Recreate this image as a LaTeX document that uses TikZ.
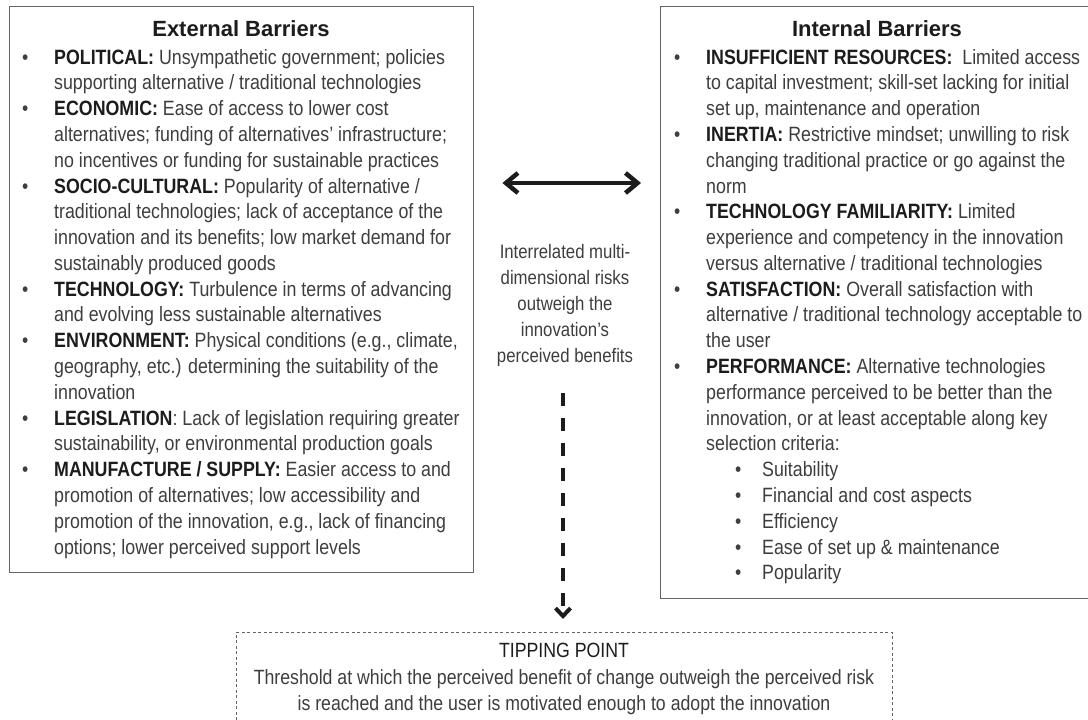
\documentclass[tikz,border=0pt]{standalone}
\usepackage{fontspec}
\setmainfont{Liberation Sans}
\newfontfamily\narrowfont[FakeStretch=0.86]{Liberation Sans}
\usetikzlibrary{arrows.meta}

\definecolor{ink}{RGB}{62,62,62}
\definecolor{inkdark}{RGB}{28,28,28}
\definecolor{frame}{RGB}{100,100,100}

% bold lead-in of a list entry
\newcommand{\lead}[1]{{\bfseries\color{inkdark}#1}}
% first-level and second-level bullet entries
\newcommand{\bitem}{\par\noindent\hangindent=32pt\hangafter=1\makebox[32pt][l]{\textbullet}}
\newcommand{\sitem}{\par\noindent\hspace{61pt}\makebox[27pt][l]{\textbullet}}
\newcommand{\bodyfont}{\narrowfont\fontsize{20.7}{25.8}\selectfont\lineskiplimit=-30pt\raggedright}

\tikzset{
  panel/.style={draw=frame, line width=1.4pt, rectangle, inner sep=0pt, anchor=north west},
  heading/.style={font=\bfseries\fontsize{22}{26}\selectfont, text=inkdark, inner sep=0pt, anchor=base},
  listtext/.style={inner sep=0pt, anchor=base west, text=ink},
  plaintext/.style={inner sep=0pt, anchor=base, text=ink},
  dblarrow/.style={line width=3.2pt, draw=inkdark,
    {Straight Barb[length=12pt,width=20pt,line width=4.5pt]}-{Straight Barb[length=12pt,width=20pt,line width=4.5pt]}},
  flowarrow/.style={line width=4pt, draw=inkdark, dash pattern=on 13pt off 12pt,
    -{Straight Barb[length=8pt,width=15pt,line width=4pt]}},
  tipbox/.style={draw=frame, line width=0.9pt, dash pattern=on 3pt off 2.5pt, rectangle, inner sep=0pt, anchor=north west}
}

\begin{document}
\begin{tikzpicture}[x=1pt, y=-1pt]
\useasboundingbox[fill=white] (0,0) rectangle (1088,720);

% ---------- external barriers ----------
\node[panel, minimum width=464pt, minimum height=566pt] (extbox) at (9,6) {};
\node[heading] (exttitle) at (241,36) {External Barriers};
\node[listtext] (extlist) at (22,64) {\parbox[t]{480pt}{\bodyfont
\bitem\lead{POLITICAL:} Unsympathetic government; policies\newline
supporting alternative / traditional technologies
\bitem\lead{ECONOMIC:} Ease of access to lower cost\newline
alternatives; funding of alternatives’ infrastructure;\newline
no incentives or funding for sustainable practices
\bitem\lead{SOCIO-CULTURAL:} Popularity of alternative /\newline
traditional technologies; lack of acceptance of the\newline
innovation and its benefits; low market demand for\newline
sustainably produced goods
\bitem\lead{TECHNOLOGY:} Turbulence in terms of advancing\newline
and evolving less sustainable alternatives
\bitem\lead{ENVIRONMENT:} Physical conditions (e.g., climate,\newline
geography, etc.) determining the suitability of the\newline
innovation
\bitem\lead{LEGISLATION}: Lack of legislation requiring greater\newline
sustainability, or environmental production goals
\bitem\lead{MANUFACTURE / SUPPLY:} Easier access to and\newline
promotion of alternatives; low accessibility and\newline
promotion of the innovation, e.g., lack of financing\newline
options; lower perceived support levels\par}};

% ---------- internal barriers ----------
\node[panel, minimum width=440pt, minimum height=592pt] (intbox) at (660,6) {};
\node[heading] (inttitle) at (877,36) {Internal Barriers};
\node[listtext] (intlist) at (674,64) {\parbox[t]{480pt}{\bodyfont
\bitem\lead{INSUFFICIENT RESOURCES:}\ \ Limited access\newline
to capital investment; skill-set lacking for initial\newline
set up, maintenance and operation
\bitem\lead{INERTIA:} Restrictive mindset; unwilling to risk\newline
changing traditional practice or go against the\newline
norm
\bitem\lead{TECHNOLOGY FAMILIARITY:} Limited\newline
experience and competency in the innovation\newline
versus alternative / traditional technologies
\bitem\lead{SATISFACTION:} Overall satisfaction with\newline
alternative / traditional technology acceptable to\newline
the user
\bitem\lead{PERFORMANCE:} Alternative technologies\newline
performance perceived to be better than the\newline
innovation, or at least acceptable along key\newline
selection criteria:
\sitem Suitability
\sitem Financial and cost aspects
\sitem Efficiency
\sitem Ease of set up \& maintenance
\sitem Popularity\par}};

% ---------- link between the two panels ----------
\coordinate (arrowrow) at (0,183);
\draw[dblarrow, shorten <=28pt, shorten >=19pt] (extbox.east |- arrowrow) -- (intbox.west |- arrowrow);

\node[plaintext] (mid) at (565,258) {\parbox[t]{170pt}{\centering
\narrowfont\fontsize{19.5}{26}\selectfont
Interrelated multi-\\
dimensional risks\\
outweigh the\\
innovation’s\\
perceived benefits}};

% ---------- tipping point ----------
\node[tipbox, minimum width=656pt, minimum height=110pt] (tip) at (236,632) {};
\node[plaintext] (tiptext) at (564,657.5) {\parbox[t]{720pt}{\centering
\narrowfont\fontsize{20.6}{26.5}\selectfont
\leavevmode{\color{inkdark}TIPPING POINT}\\
Threshold at which the perceived benefit of change outweigh the perceived risk\\
is reached and the user is motivated enough to adopt the innovation}};

\draw[flowarrow, shorten <=27pt, shorten >=13pt] (mid.south -| 563,0) -- (tip.north -| 563,0);
\end{tikzpicture}
\end{document}
